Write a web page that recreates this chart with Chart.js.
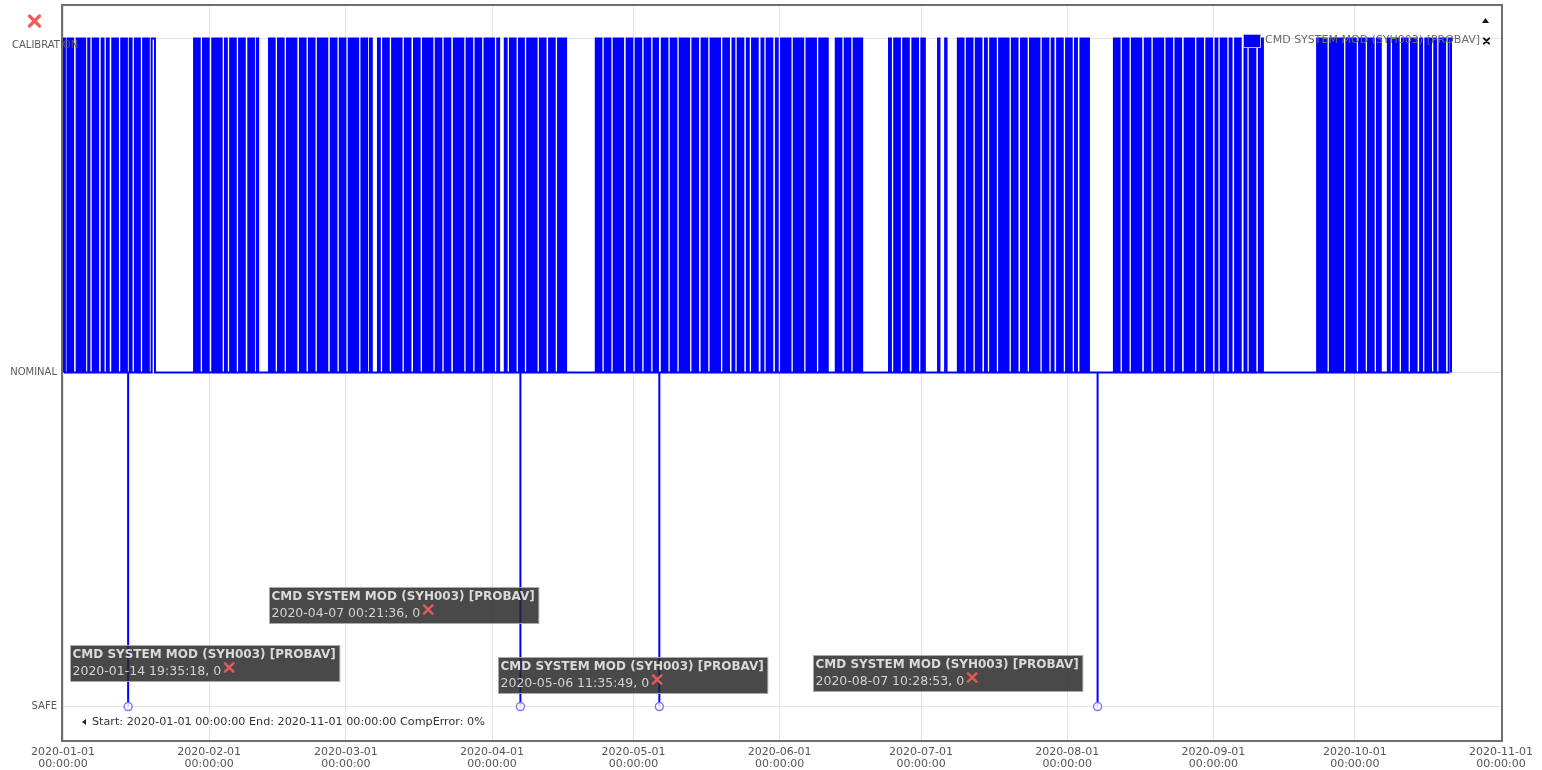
<!DOCTYPE html>
<html>
<head>
<meta charset="utf-8">
<title>CMD SYSTEM MOD (SYH003) [PROBAV]</title>
<script src="https://cdn.jsdelivr.net/npm/chart.js@4/dist/chart.umd.min.js"></script>
<style>
  html, body { margin: 0; padding: 0; background: #ffffff; }
  #wrap { width: 1542px; height: 770px; position: relative; }
</style>
</head>
<body>
<div id="wrap"><canvas id="chart" width="1542" height="770"></canvas></div>
<script>
// ---- data -------------------------------------------------------------
const seriesLabel = 'CMD SYSTEM MOD (SYH003) [PROBAV]';
const startDate = '2020-01-01';
const endDate = '2020-11-01';
const compError = 0;

// x axis ticks (month starts)
const monthTicks = ['2020-01-01', '2020-02-01', '2020-03-01', '2020-04-01', '2020-05-01', '2020-06-01',
                    '2020-07-01', '2020-08-01', '2020-09-01', '2020-10-01', '2020-11-01'];

// y axis levels, index = mode value
const modeLevels = ['SAFE', 'NOMINAL', 'CALIBRATION'];

// periods spent in CALIBRATION, as [from, to] in days after startDate; NOMINAL otherwise
const calibrationSpans = [
  [0.00,0.40],[0.95,1.35],[1.75,2.15],[2.90,3.30],[3.70,4.10],[4.45,4.70],[5.35,5.60],[6.30,6.70],[7.10,7.45],[8.20,8.60],[9.30,9.70],[10.45,10.85],[11.25,11.65],[12.35,12.75],[13.15,13.55],[14.15,14.55],[15.25,15.65],[16.05,16.30],[17.00,17.40],[17.80,18.20],[18.80,19.50],
  [27.80,28.20],[28.60,29.00],[29.70,30.10],[30.50,30.90],[31.65,32.05],[32.45,32.85],[33.25,33.65],[34.35,34.75],[35.45,35.85],[36.25,36.65],[37.35,37.75],[38.15,38.55],[39.30,39.70],[40.10,40.50],[41.10,41.40],
  [43.70,44.10],[44.50,44.90],[45.60,46.00],[46.40,46.80],[47.50,47.90],[48.30,48.70],[49.10,49.50],[50.25,50.65],[51.05,51.45],[52.15,52.55],[52.95,53.35],[54.05,54.45],[54.85,55.25],[55.65,56.05],[56.80,57.20],[57.60,58.00],[58.70,59.10],[59.50,59.90],[60.60,61.00],[61.40,61.80],[62.20,62.60],[63.30,63.70],[64.10,64.50],[65.10,65.50],
  [66.80,67.20],[67.90,68.30],[68.70,69.10],[69.80,70.20],[70.60,71.00],[71.40,71.80],[72.50,72.90],[73.30,73.70],[74.45,74.85],[75.25,75.65],[76.35,76.75],[77.15,77.55],[77.95,78.35],[79.05,79.45],[79.85,80.25],[80.95,81.35],[81.75,82.15],[82.90,83.30],[83.70,84.10],[84.50,84.90],[85.60,86.00],[86.40,86.80],[87.50,87.90],[88.30,88.70],[89.40,89.80],[90.20,90.60],[91.00,91.40],[92.10,92.50],
  [93.70,94.10],[94.80,95.20],[95.60,96.00],[96.70,96.95],[97.35,97.75],[98.45,98.85],[99.25,99.65],[100.05,100.45],[101.15,101.55],[101.95,102.35],[103.10,103.50],[103.90,104.30],[105.00,105.40],[105.80,106.20],[106.45,106.70],
  [113.00,113.40],[113.80,114.20],[114.90,115.30],[115.70,116.10],[116.80,117.20],[117.60,118.00],[118.40,118.80],[119.55,119.95],[120.35,120.75],[121.45,121.85],[122.25,122.65],[123.35,123.75],[124.15,124.55],[125.25,125.65],[126.00,126.20],
  [127.00,127.40],[127.80,128.20],[128.90,129.30],[129.70,130.10],[130.80,131.20],[131.60,132.00],[132.40,132.80],[133.50,133.90],[134.30,134.70],[135.45,135.85],[136.25,136.65],[137.35,137.75],[138.15,138.55],[138.95,139.35],[140.05,140.45],[140.85,141.25],[142.00,142.40],[143.10,143.50],[143.90,144.30],[145.05,145.45],[146.15,146.55],[146.95,147.35],[148.15,148.55],[149.25,149.65],[150.05,150.45],[151.20,151.60],[152.30,152.70],[153.10,153.50],[153.90,154.30],[155.00,155.40],[155.80,156.20],[156.60,157.00],[157.70,158.10],[158.50,158.90],[159.30,159.70],[160.40,160.80],[161.20,161.60],[161.90,162.20],
  [163.90,164.30],[164.70,165.10],[165.80,166.20],[166.60,167.00],[167.70,168.10],[168.50,168.90],[169.20,169.50],
  [175.20,175.60],[176.30,176.70],[177.10,177.50],[178.20,178.60],[179.00,179.40],[180.15,180.55],[180.95,181.35],[182.05,182.45],[182.55,182.80],
  [185.60,185.90],[187.10,187.40],
  [189.80,190.20],[190.60,191.00],[191.70,192.10],[192.50,192.90],[193.60,194.00],[194.40,194.80],[195.55,195.95],[196.65,197.05],[197.45,197.85],[198.55,198.95],[199.35,199.75],[200.15,200.55],[201.25,201.65],[202.05,202.45],[203.20,203.60],[204.00,204.40],[205.10,205.50],[205.90,206.30],[206.70,207.10],[207.80,208.20],[208.60,209.00],[209.70,210.10],[210.85,211.25],[211.65,212.05],[212.75,213.15],[213.55,213.95],[214.65,215.05],[215.80,216.20],[216.60,217.00],[217.30,217.60],
  [222.90,223.30],[223.70,224.10],[224.80,225.20],[225.60,226.00],[226.70,227.10],[227.50,227.90],[228.30,228.70],[229.45,229.85],[230.25,230.65],[231.35,231.75],[232.15,232.55],[232.95,233.35],[234.05,234.45],[234.85,235.25],[235.95,236.35],[236.75,237.15],[237.90,238.30],[238.70,239.10],[239.50,239.90],[240.60,241.00],[241.40,241.80],[242.50,242.90],[243.30,243.70],[244.45,244.85],[245.55,245.95],[246.35,246.75],[247.45,247.85],[248.60,249.00],[249.40,249.80],[250.60,251.00],[251.70,252.10],[252.50,252.90],[253.65,254.05],[254.30,254.50],
  [266.00,266.40],[266.80,267.20],[267.60,268.00],[268.70,269.10],[269.50,269.90],[270.30,270.70],[271.10,271.50],[272.20,272.60],[273.00,273.40],[273.80,274.20],[274.90,275.30],[275.70,276.10],[276.80,277.20],[277.60,278.00],[278.70,279.10],[279.35,279.50],
  [281.00,281.40],[282.10,282.50],[282.90,283.30],[284.00,284.40],[284.80,285.20],[285.90,286.30],[286.70,287.10],[287.85,288.25],[288.95,289.35],[289.75,290.15],[290.85,291.25],[291.95,292.35],[292.75,293.15],[293.90,294.40]
];

// short drops to SAFE (mode value 0)
const safeEventTimes = ['2020-01-14 19:35:18', '2020-04-07 00:21:36', '2020-05-06 11:35:49', '2020-08-07 10:28:53'];
const safeEventValues = [0, 0, 0, 0];

// ---- layout / style (not data) ----------------------------------------
// where each pinned info box sits relative to its SAFE point [dx, dy] in px
const calloutOffsets = [[-58, -62], [-251, -120], [-161, -50], [-285, -52]];
const FONT = "'DejaVu Sans', Verdana, sans-serif";

// ---- build the stepped series -----------------------------------------
const DAY = 86400000;
const parseUtc = s => Date.parse(s.replace(' ', 'T') + (s.length <= 10 ? 'T00:00:00Z' : 'Z'));
const t0 = parseUtc(startDate);
const t1 = parseUtc(endDate);

const points = [{ x: t0, y: 1 }];
calibrationSpans.forEach(([a, b]) => {
  points.push({ x: t0 + a * DAY, y: 2 });
  points.push({ x: t0 + b * DAY, y: 1 });
});
safeEventTimes.forEach((s, i) => {
  const t = parseUtc(s);
  points.push({ x: t, y: safeEventValues[i] });
  points.push({ x: t + 60000, y: 1 });
});
points.sort((p, q) => p.x - q.x);

const pad = n => String(n).padStart(2, '0');
function fmtDate(ms) {
  const d = new Date(ms);
  return d.getUTCFullYear() + '-' + pad(d.getUTCMonth() + 1) + '-' + pad(d.getUTCDate());
}
function fmtTime(ms) {
  const d = new Date(ms);
  return pad(d.getUTCHours()) + ':' + pad(d.getUTCMinutes()) + ':' + pad(d.getUTCSeconds());
}

function drawCross(ctx, cx, cy, half, width, color) {
  ctx.save();
  ctx.strokeStyle = color;
  ctx.lineWidth = width;
  ctx.lineCap = 'round';
  ctx.beginPath();
  ctx.moveTo(cx - half, cy - half); ctx.lineTo(cx + half, cy + half);
  ctx.moveTo(cx + half, cy - half); ctx.lineTo(cx - half, cy + half);
  ctx.stroke();
  ctx.restore();
}

// ---- plugins ----------------------------------------------------------
const decorations = {
  id: 'decorations',
  afterDatasetsDraw(chart) {
    const { ctx, chartArea: a, scales } = chart;
    const ys = scales.y, xs = scales.x;

    // frame around plot
    ctx.save();
    ctx.strokeStyle = '#6e6e6e';
    ctx.lineWidth = 2;
    ctx.strokeRect(a.left - 1, a.top, a.right - a.left + 2, a.bottom - a.top + 1);
    ctx.restore();

    // y level names
    ctx.save();
    ctx.font = '10px ' + FONT;
    ctx.fillStyle = '#5a5a5a';
    ctx.textBaseline = 'middle';
    ys.ticks.forEach(t => {
      const txt = modeLevels[t.value];
      const w = ctx.measureText(txt).width;
      let x = a.left - 6 - w;
      let y = ys.getPixelForValue(t.value);
      if (x < 4) { x = 12; y += 7; }
      ctx.fillText(txt, x, y);
    });
    ctx.restore();

    // legend entry inside the plot
    ctx.save();
    const lx = a.right - 257, ly = a.top + 30;
    ctx.fillStyle = '#0000ff';
    ctx.fillRect(lx, ly, 16, 12);
    ctx.strokeStyle = '#b8b8e8';
    ctx.lineWidth = 1;
    ctx.strokeRect(lx - 0.5, ly - 0.5, 17, 13);
    ctx.font = '11px ' + FONT;
    ctx.fillStyle = '#6a6a6a';
    ctx.textBaseline = 'middle';
    ctx.fillText(chart.data.datasets[0].label, lx + 21, ly + 5);
    ctx.restore();

    // small controls at the right
    ctx.save();
    ctx.fillStyle = '#111';
    ctx.beginPath();
    ctx.moveTo(a.right - 19, a.top + 18);
    ctx.lineTo(a.right - 12, a.top + 18);
    ctx.lineTo(a.right - 15.5, a.top + 13);
    ctx.closePath();
    ctx.fill();
    ctx.restore();
    drawCross(ctx, a.right - 14.5, a.top + 36, 2.6, 2, '#111');

    // range summary
    ctx.save();
    ctx.fillStyle = '#222';
    ctx.beginPath();
    ctx.moveTo(a.left + 19, a.bottom - 18);
    ctx.lineTo(a.left + 23, a.bottom - 21);
    ctx.lineTo(a.left + 23, a.bottom - 15);
    ctx.closePath();
    ctx.fill();
    ctx.font = '11.2px ' + FONT;
    ctx.fillStyle = '#333';
    ctx.textBaseline = 'middle';
    ctx.fillText('Start: ' + fmtDate(xs.min) + ' ' + fmtTime(xs.min) +
                 ' End: ' + fmtDate(xs.max) + ' ' + fmtTime(xs.max) +
                 ' CompError: ' + compError + '%', a.left + 29, a.bottom - 18);
    ctx.restore();
  },
  afterDraw(chart) {
    const { ctx } = chart;
    // close icon, top left
    drawCross(ctx, 34.5, 21, 5, 3.2, '#f25c5c');

    // pinned value boxes for the SAFE points
    const meta = chart.getDatasetMeta(0);
    const data = chart.data.datasets[0].data;
    let k = 0;
    data.forEach((p, i) => {
      if (p.y !== 0) return;
      const el = meta.data[i];
      const off = calloutOffsets[k++] || [-60, -60];
      const title = chart.data.datasets[0].label;
      const line2 = fmtDate(p.x) + ' ' + fmtTime(p.x) + ', ' + p.y;
      ctx.save();
      ctx.font = 'bold 12px ' + FONT;
      const w = ctx.measureText(title).width + 6;
      const bx = Math.round(el.x + off[0]) + 0.5, by = Math.round(el.y + off[1]) + 0.5;
      ctx.fillStyle = 'rgba(38,38,38,0.84)';
      ctx.fillRect(bx, by, w, 36);
      ctx.strokeStyle = 'rgba(170,170,170,0.9)';
      ctx.lineWidth = 1;
      ctx.strokeRect(bx, by, w, 36);
      ctx.textBaseline = 'middle';
      ctx.fillStyle = '#dadada';
      ctx.fillText(title, bx + 2, by + 9.5);
      ctx.font = '12.5px ' + FONT;
      ctx.fillStyle = '#d2d2d2';
      ctx.fillText(line2, bx + 2, by + 26.5);
      const tw = ctx.measureText(line2).width;
      ctx.restore();
      drawCross(ctx, bx + 2 + tw + 8, by + 22, 4.2, 2.6, '#e05a5a');
    });
  }
};

// ---- chart ------------------------------------------------------------
Chart.defaults.font.family = FONT;

new Chart(document.getElementById('chart'), {
  type: 'line',
  data: {
    datasets: [{
      label: seriesLabel,
      data: points,
      stepped: true,
      borderColor: '#0000ff',
      borderWidth: 2,
      fill: false,
      pointRadius: ctx => (ctx.raw && ctx.raw.y === 0 ? 4 : 0),
      pointBorderColor: '#7a7aff',
      pointBackgroundColor: 'rgba(255,255,255,0.85)',
      pointBorderWidth: 1.5
    }]
  },
  options: {
    responsive: false,
    animation: false,
    parsing: false,
    events: [],
    layout: { autoPadding: false, padding: { top: 5, right: 41, left: 0, bottom: 0 } },
    plugins: { legend: { display: false }, tooltip: { enabled: false } },
    scales: {
      x: {
        type: 'linear',
        min: t0,
        max: t1,
        afterBuildTicks: s => { s.ticks = monthTicks.map(m => ({ value: parseUtc(m) })); },
        afterFit: s => { s.height = 30; },
        grid: { color: '#e4e4e4', drawTicks: false },
        border: { display: false },
        ticks: {
          autoSkip: false,
          maxRotation: 0,
          padding: 6,
          color: '#555',
          font: { size: 11, lineHeight: 1.1 },
          callback: v => [fmtDate(v), fmtTime(v)]
        }
      },
      y: {
        min: -0.1,
        max: 2.1,
        afterBuildTicks: s => { s.ticks = modeLevels.map((_, i) => ({ value: i })); },
        afterFit: s => { s.width = 63; },
        grid: { color: '#e4e4e4', drawTicks: false },
        border: { display: false },
        ticks: { display: false }
      }
    }
  },
  plugins: [decorations]
});
</script>
</body>
</html>
